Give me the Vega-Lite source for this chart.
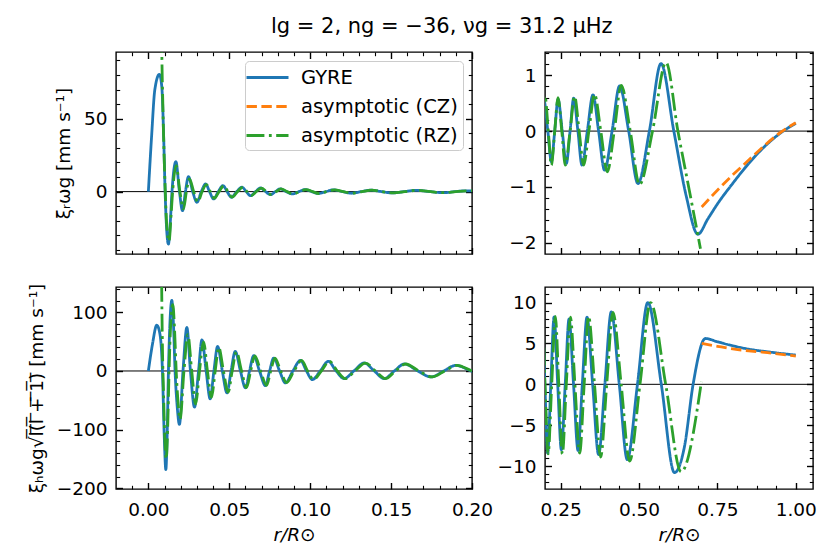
{
  "$schema": "https://vega.github.io/schema/vega-lite/v6.json",
  "padding": {"left": 26, "top": 16, "right": 19, "bottom": 5},
  "title": {"text": "lg = 2, ng = \u221236, \u03bdg = 31.2 \u03bcHz", "font": "DejaVu Sans", "fontSize": 21, "fontWeight": "normal", "color": "black", "anchor": "middle", "offset": 13.5, "dx": 20},
  "datasets": {
    "xr": [
      {"r": 0, "v": 0, "model": "GYRE"}, {"r": 0.002, "v": 38, "model": "GYRE"}, {"r": 0.004, "v": 70, "model": "GYRE"}, {"r": 0.0068, "v": 80.5, "model": "GYRE"},
      {"r": 0.0083, "v": 72, "model": "GYRE"}, {"r": 0.0094, "v": 40, "model": "GYRE"}, {"r": 0.0103, "v": 2, "model": "GYRE"}, {"r": 0.0112, "v": -24, "model": "GYRE"},
      {"r": 0.0124, "v": -36, "model": "GYRE"}, {"r": 0.0135, "v": -22, "model": "GYRE"}, {"r": 0.0146, "v": 0, "model": "GYRE"}, {"r": 0.017, "v": 20.6, "model": "GYRE"},
      {"r": 0.0192, "v": 0, "model": "GYRE"}, {"r": 0.0211, "v": -13.1, "model": "GYRE"}, {"r": 0.0229, "v": 0, "model": "GYRE"}, {"r": 0.0248, "v": 10.3, "model": "GYRE"},
      {"r": 0.0274, "v": 0, "model": "GYRE"}, {"r": 0.03, "v": -7.3, "model": "GYRE"}, {"r": 0.0327, "v": 0, "model": "GYRE"}, {"r": 0.0354, "v": 5.3, "model": "GYRE"},
      {"r": 0.0378, "v": 0, "model": "GYRE"}, {"r": 0.0403, "v": -5, "model": "GYRE"}, {"r": 0.0432, "v": 0, "model": "GYRE"}, {"r": 0.0461, "v": 4.1, "model": "GYRE"},
      {"r": 0.0487, "v": 0, "model": "GYRE"}, {"r": 0.0513, "v": -3.9, "model": "GYRE"}, {"r": 0.0546, "v": 0, "model": "GYRE"}, {"r": 0.0579, "v": 3, "model": "GYRE"},
      {"r": 0.0605, "v": 0, "model": "GYRE"}, {"r": 0.0631, "v": -2.8, "model": "GYRE"}, {"r": 0.0662, "v": 0, "model": "GYRE"}, {"r": 0.0693, "v": 2.5, "model": "GYRE"},
      {"r": 0.0724, "v": 0, "model": "GYRE"}, {"r": 0.0755, "v": -2.1, "model": "GYRE"}, {"r": 0.0785, "v": 0, "model": "GYRE"}, {"r": 0.0815, "v": 1.9, "model": "GYRE"},
      {"r": 0.0852, "v": 0, "model": "GYRE"}, {"r": 0.089, "v": -1.6, "model": "GYRE"}, {"r": 0.093, "v": 0, "model": "GYRE"}, {"r": 0.097, "v": 1.4, "model": "GYRE"},
      {"r": 0.101, "v": 0, "model": "GYRE"}, {"r": 0.105, "v": -1.3, "model": "GYRE"}, {"r": 0.1097, "v": 0, "model": "GYRE"}, {"r": 0.1145, "v": 1.2, "model": "GYRE"},
      {"r": 0.12, "v": 0, "model": "GYRE"}, {"r": 0.1255, "v": -1.1, "model": "GYRE"}, {"r": 0.1315, "v": 0, "model": "GYRE"}, {"r": 0.1375, "v": 1, "model": "GYRE"},
      {"r": 0.144, "v": 0, "model": "GYRE"}, {"r": 0.151, "v": -0.9, "model": "GYRE"}, {"r": 0.158, "v": 0, "model": "GYRE"}, {"r": 0.1655, "v": 0.85, "model": "GYRE"},
      {"r": 0.174, "v": 0, "model": "GYRE"}, {"r": 0.182, "v": -0.75, "model": "GYRE"}, {"r": 0.1895, "v": 0, "model": "GYRE"}, {"r": 0.1965, "v": 0.55, "model": "GYRE"},
      {"r": 0.209, "v": 0, "model": "GYRE"}, {"r": 0.2204, "v": -0.55, "model": "GYRE"}, {"r": 0.231, "v": 0, "model": "GYRE"}, {"r": 0.2417, "v": 0.57, "model": "GYRE"},
      {"r": 0.255, "v": 0, "model": "GYRE"}, {"r": 0.268, "v": -0.58, "model": "GYRE"}, {"r": 0.28, "v": 0, "model": "GYRE"}, {"r": 0.2915, "v": 0.59, "model": "GYRE"},
      {"r": 0.305, "v": 0, "model": "GYRE"}, {"r": 0.318, "v": -0.61, "model": "GYRE"}, {"r": 0.335, "v": 0, "model": "GYRE"}, {"r": 0.353, "v": 0.65, "model": "GYRE"},
      {"r": 0.371, "v": 0, "model": "GYRE"}, {"r": 0.39, "v": -0.7, "model": "GYRE"}, {"r": 0.414, "v": 0, "model": "GYRE"}, {"r": 0.438, "v": 0.81, "model": "GYRE"},
      {"r": 0.467, "v": 0, "model": "GYRE"}, {"r": 0.4965, "v": -0.94, "model": "GYRE"}, {"r": 0.533, "v": 0, "model": "GYRE"}, {"r": 0.57, "v": 1.21, "model": "GYRE"},
      {"r": 0.611, "v": 0, "model": "GYRE"}, {"r": 0.65, "v": -1.15, "model": "GYRE"}, {"r": 0.6876, "v": -1.85, "model": "GYRE"}, {"r": 0.72, "v": -1.57, "model": "GYRE"},
      {"r": 0.751, "v": -1.3, "model": "GYRE"}, {"r": 0.8, "v": -0.93, "model": "GYRE"}, {"r": 0.85, "v": -0.58, "model": "GYRE"}, {"r": 0.9, "v": -0.28, "model": "GYRE"},
      {"r": 0.95, "v": -0.04, "model": "GYRE"}, {"r": 1, "v": 0.14, "model": "GYRE"},
      {"r": 0.7, "v": -1.36, "model": "asymptotic (CZ)"}, {"r": 0.75, "v": -1.06, "model": "asymptotic (CZ)"}, {"r": 0.8, "v": -0.78, "model": "asymptotic (CZ)"},
      {"r": 0.85, "v": -0.52, "model": "asymptotic (CZ)"}, {"r": 0.9, "v": -0.26, "model": "asymptotic (CZ)"}, {"r": 0.95, "v": -0.03, "model": "asymptotic (CZ)"}, {"r": 1, "v": 0.15, "model": "asymptotic (CZ)"},
      {"r": 0.0076, "v": 230, "model": "asymptotic (RZ)"}, {"r": 0.0082, "v": 110, "model": "asymptotic (RZ)"}, {"r": 0.0089, "v": 62, "model": "asymptotic (RZ)"}, {"r": 0.0096, "v": 30, "model": "asymptotic (RZ)"},
      {"r": 0.0103, "v": 5, "model": "asymptotic (RZ)"}, {"r": 0.0113, "v": -22, "model": "asymptotic (RZ)"}, {"r": 0.0128, "v": -34, "model": "asymptotic (RZ)"}, {"r": 0.0141, "v": -15, "model": "asymptotic (RZ)"},
      {"r": 0.015, "v": 0, "model": "asymptotic (RZ)"}, {"r": 0.0172, "v": 17.9, "model": "asymptotic (RZ)"}, {"r": 0.0195, "v": 0, "model": "asymptotic (RZ)"}, {"r": 0.0217, "v": -11.9, "model": "asymptotic (RZ)"},
      {"r": 0.0235, "v": 0, "model": "asymptotic (RZ)"}, {"r": 0.0254, "v": 8.7, "model": "asymptotic (RZ)"}, {"r": 0.028, "v": 0, "model": "asymptotic (RZ)"}, {"r": 0.0306, "v": -7, "model": "asymptotic (RZ)"},
      {"r": 0.0332, "v": 0, "model": "asymptotic (RZ)"}, {"r": 0.0358, "v": 4.8, "model": "asymptotic (RZ)"}, {"r": 0.0383, "v": 0, "model": "asymptotic (RZ)"}, {"r": 0.0408, "v": -4.6, "model": "asymptotic (RZ)"},
      {"r": 0.0437, "v": 0, "model": "asymptotic (RZ)"}, {"r": 0.0466, "v": 4, "model": "asymptotic (RZ)"}, {"r": 0.0492, "v": 0, "model": "asymptotic (RZ)"}, {"r": 0.0518, "v": -3.8, "model": "asymptotic (RZ)"},
      {"r": 0.0551, "v": 0, "model": "asymptotic (RZ)"}, {"r": 0.0584, "v": 3, "model": "asymptotic (RZ)"}, {"r": 0.061, "v": 0, "model": "asymptotic (RZ)"}, {"r": 0.0636, "v": -2.7, "model": "asymptotic (RZ)"},
      {"r": 0.0667, "v": 0, "model": "asymptotic (RZ)"}, {"r": 0.0698, "v": 2.4, "model": "asymptotic (RZ)"}, {"r": 0.0729, "v": 0, "model": "asymptotic (RZ)"}, {"r": 0.076, "v": -2.1, "model": "asymptotic (RZ)"},
      {"r": 0.079, "v": 0, "model": "asymptotic (RZ)"}, {"r": 0.082, "v": 1.9, "model": "asymptotic (RZ)"}, {"r": 0.0857, "v": 0, "model": "asymptotic (RZ)"}, {"r": 0.0895, "v": -1.6, "model": "asymptotic (RZ)"},
      {"r": 0.0935, "v": 0, "model": "asymptotic (RZ)"}, {"r": 0.0975, "v": 1.4, "model": "asymptotic (RZ)"}, {"r": 0.1015, "v": 0, "model": "asymptotic (RZ)"}, {"r": 0.1055, "v": -1.3, "model": "asymptotic (RZ)"},
      {"r": 0.1102, "v": 0, "model": "asymptotic (RZ)"}, {"r": 0.115, "v": 1.2, "model": "asymptotic (RZ)"}, {"r": 0.1205, "v": 0, "model": "asymptotic (RZ)"}, {"r": 0.126, "v": -1.1, "model": "asymptotic (RZ)"},
      {"r": 0.132, "v": 0, "model": "asymptotic (RZ)"}, {"r": 0.138, "v": 1, "model": "asymptotic (RZ)"}, {"r": 0.1445, "v": 0, "model": "asymptotic (RZ)"}, {"r": 0.1515, "v": -0.9, "model": "asymptotic (RZ)"},
      {"r": 0.1585, "v": 0, "model": "asymptotic (RZ)"}, {"r": 0.166, "v": 0.85, "model": "asymptotic (RZ)"}, {"r": 0.1745, "v": 0, "model": "asymptotic (RZ)"}, {"r": 0.1825, "v": -0.75, "model": "asymptotic (RZ)"},
      {"r": 0.19, "v": 0, "model": "asymptotic (RZ)"}, {"r": 0.2, "v": 0.63, "model": "asymptotic (RZ)"}, {"r": 0.2105, "v": 0, "model": "asymptotic (RZ)"}, {"r": 0.2204, "v": -0.61, "model": "asymptotic (RZ)"},
      {"r": 0.231, "v": 0, "model": "asymptotic (RZ)"}, {"r": 0.2417, "v": 0.6, "model": "asymptotic (RZ)"}, {"r": 0.2535, "v": 0, "model": "asymptotic (RZ)"}, {"r": 0.265, "v": -0.61, "model": "asymptotic (RZ)"},
      {"r": 0.28, "v": 0, "model": "asymptotic (RZ)"}, {"r": 0.2946, "v": 0.62, "model": "asymptotic (RZ)"}, {"r": 0.309, "v": 0, "model": "asymptotic (RZ)"}, {"r": 0.3233, "v": -0.61, "model": "asymptotic (RZ)"},
      {"r": 0.34, "v": 0, "model": "asymptotic (RZ)"}, {"r": 0.358, "v": 0.66, "model": "asymptotic (RZ)"}, {"r": 0.378, "v": 0, "model": "asymptotic (RZ)"}, {"r": 0.3987, "v": -0.73, "model": "asymptotic (RZ)"},
      {"r": 0.421, "v": 0, "model": "asymptotic (RZ)"}, {"r": 0.4433, "v": 0.82, "model": "asymptotic (RZ)"}, {"r": 0.472, "v": 0, "model": "asymptotic (RZ)"}, {"r": 0.5016, "v": -0.96, "model": "asymptotic (RZ)"},
      {"r": 0.543, "v": 0, "model": "asymptotic (RZ)"}, {"r": 0.586, "v": 1.23, "model": "asymptotic (RZ)"}, {"r": 0.624, "v": 0, "model": "asymptotic (RZ)"}, {"r": 0.66, "v": -1.05, "model": "asymptotic (RZ)"},
      {"r": 0.696, "v": -2.11, "model": "asymptotic (RZ)"}
    ],
    "xh": [
      {"r": 0, "v": 0, "model": "GYRE"}, {"r": 0.0025, "v": 45, "model": "GYRE"}, {"r": 0.0052, "v": 78, "model": "GYRE"}, {"r": 0.0072, "v": 62, "model": "GYRE"},
      {"r": 0.0087, "v": 0, "model": "GYRE"}, {"r": 0.0098, "v": -110, "model": "GYRE"}, {"r": 0.0108, "v": -168, "model": "GYRE"}, {"r": 0.0116, "v": -110, "model": "GYRE"},
      {"r": 0.0124, "v": 0, "model": "GYRE"}, {"r": 0.0133, "v": 80, "model": "GYRE"}, {"r": 0.0145, "v": 120, "model": "GYRE"}, {"r": 0.0155, "v": 80, "model": "GYRE"},
      {"r": 0.0165, "v": 0, "model": "GYRE"}, {"r": 0.0178, "v": -60, "model": "GYRE"}, {"r": 0.0192, "v": -91, "model": "GYRE"}, {"r": 0.0214, "v": 0, "model": "GYRE"},
      {"r": 0.0238, "v": 74, "model": "GYRE"}, {"r": 0.026, "v": 0, "model": "GYRE"}, {"r": 0.0285, "v": -61.6, "model": "GYRE"}, {"r": 0.031, "v": 0, "model": "GYRE"},
      {"r": 0.0331, "v": 53, "model": "GYRE"}, {"r": 0.0357, "v": 0, "model": "GYRE"}, {"r": 0.0382, "v": -47.5, "model": "GYRE"}, {"r": 0.0405, "v": 0, "model": "GYRE"},
      {"r": 0.0428, "v": 41.8, "model": "GYRE"}, {"r": 0.0457, "v": 0, "model": "GYRE"}, {"r": 0.0486, "v": -37.3, "model": "GYRE"}, {"r": 0.0511, "v": 0, "model": "GYRE"},
      {"r": 0.0537, "v": 33.3, "model": "GYRE"}, {"r": 0.0569, "v": 0, "model": "GYRE"}, {"r": 0.06, "v": -28.8, "model": "GYRE"}, {"r": 0.0625, "v": 0, "model": "GYRE"},
      {"r": 0.0651, "v": 26, "model": "GYRE"}, {"r": 0.0687, "v": 0, "model": "GYRE"}, {"r": 0.0723, "v": -24.9, "model": "GYRE"}, {"r": 0.0749, "v": 0, "model": "GYRE"},
      {"r": 0.0775, "v": 22, "model": "GYRE"}, {"r": 0.0811, "v": 0, "model": "GYRE"}, {"r": 0.0847, "v": -20.3, "model": "GYRE"}, {"r": 0.0893, "v": 0, "model": "GYRE"},
      {"r": 0.094, "v": 18, "model": "GYRE"}, {"r": 0.0977, "v": 0, "model": "GYRE"}, {"r": 0.1013, "v": -14.7, "model": "GYRE"}, {"r": 0.1062, "v": 0, "model": "GYRE"},
      {"r": 0.1112, "v": 16.4, "model": "GYRE"}, {"r": 0.116, "v": 0, "model": "GYRE"}, {"r": 0.121, "v": -13, "model": "GYRE"}, {"r": 0.127, "v": 0, "model": "GYRE"},
      {"r": 0.1334, "v": 13.6, "model": "GYRE"}, {"r": 0.1396, "v": 0, "model": "GYRE"}, {"r": 0.1458, "v": -13, "model": "GYRE"}, {"r": 0.152, "v": 0, "model": "GYRE"},
      {"r": 0.1582, "v": 11.9, "model": "GYRE"}, {"r": 0.1665, "v": 0, "model": "GYRE"}, {"r": 0.1747, "v": -10.2, "model": "GYRE"}, {"r": 0.1825, "v": 0, "model": "GYRE"},
      {"r": 0.19, "v": 9.6, "model": "GYRE"}, {"r": 0.1995, "v": 0, "model": "GYRE"}, {"r": 0.2085, "v": -8.4, "model": "GYRE"}, {"r": 0.2185, "v": 0, "model": "GYRE"},
      {"r": 0.229, "v": 8.25, "model": "GYRE"}, {"r": 0.2405, "v": 0, "model": "GYRE"}, {"r": 0.2522, "v": -8, "model": "GYRE"}, {"r": 0.2645, "v": 0, "model": "GYRE"},
      {"r": 0.2767, "v": 8, "model": "GYRE"}, {"r": 0.291, "v": 0, "model": "GYRE"}, {"r": 0.3055, "v": -8.1, "model": "GYRE"}, {"r": 0.319, "v": 0, "model": "GYRE"},
      {"r": 0.334, "v": 8.2, "model": "GYRE"}, {"r": 0.352, "v": 0, "model": "GYRE"}, {"r": 0.371, "v": -8.6, "model": "GYRE"}, {"r": 0.391, "v": 0, "model": "GYRE"},
      {"r": 0.4115, "v": 8.85, "model": "GYRE"}, {"r": 0.437, "v": 0, "model": "GYRE"}, {"r": 0.4624, "v": -9.2, "model": "GYRE"}, {"r": 0.495, "v": 0, "model": "GYRE"},
      {"r": 0.528, "v": 10, "model": "GYRE"}, {"r": 0.571, "v": 0, "model": "GYRE"}, {"r": 0.613, "v": -10.8, "model": "GYRE"}, {"r": 0.645, "v": -7.6, "model": "GYRE"},
      {"r": 0.6725, "v": 0, "model": "GYRE"}, {"r": 0.7117, "v": 5.6, "model": "GYRE"}, {"r": 0.75, "v": 5.2, "model": "GYRE"}, {"r": 0.804, "v": 4.67, "model": "GYRE"},
      {"r": 0.85, "v": 4.3, "model": "GYRE"}, {"r": 0.91, "v": 3.98, "model": "GYRE"}, {"r": 1, "v": 3.57, "model": "GYRE"},
      {"r": 0.7, "v": 5, "model": "asymptotic (CZ)"}, {"r": 0.75, "v": 4.65, "model": "asymptotic (CZ)"}, {"r": 0.804, "v": 4.3, "model": "asymptotic (CZ)"},
      {"r": 0.85, "v": 4.1, "model": "asymptotic (CZ)"}, {"r": 0.91, "v": 3.87, "model": "asymptotic (CZ)"}, {"r": 1, "v": 3.45, "model": "asymptotic (CZ)"},
      {"r": 0.0077, "v": 300, "model": "asymptotic (RZ)"}, {"r": 0.0082, "v": 150, "model": "asymptotic (RZ)"}, {"r": 0.0087, "v": 40, "model": "asymptotic (RZ)"}, {"r": 0.0093, "v": -30, "model": "asymptotic (RZ)"},
      {"r": 0.0101, "v": -110, "model": "asymptotic (RZ)"}, {"r": 0.011, "v": -150, "model": "asymptotic (RZ)"}, {"r": 0.0119, "v": -100, "model": "asymptotic (RZ)"}, {"r": 0.0128, "v": 0, "model": "asymptotic (RZ)"},
      {"r": 0.0138, "v": 80, "model": "asymptotic (RZ)"}, {"r": 0.0151, "v": 113, "model": "asymptotic (RZ)"}, {"r": 0.0162, "v": 70, "model": "asymptotic (RZ)"}, {"r": 0.0172, "v": 0, "model": "asymptotic (RZ)"},
      {"r": 0.0184, "v": -55, "model": "asymptotic (RZ)"}, {"r": 0.0196, "v": -82, "model": "asymptotic (RZ)"}, {"r": 0.022, "v": 0, "model": "asymptotic (RZ)"}, {"r": 0.0244, "v": 62, "model": "asymptotic (RZ)"},
      {"r": 0.0268, "v": 0, "model": "asymptotic (RZ)"}, {"r": 0.0292, "v": -56.5, "model": "asymptotic (RZ)"}, {"r": 0.0316, "v": 0, "model": "asymptotic (RZ)"}, {"r": 0.0341, "v": 49.7, "model": "asymptotic (RZ)"},
      {"r": 0.0365, "v": 0, "model": "asymptotic (RZ)"}, {"r": 0.039, "v": -45, "model": "asymptotic (RZ)"}, {"r": 0.0413, "v": 0, "model": "asymptotic (RZ)"}, {"r": 0.0435, "v": 40, "model": "asymptotic (RZ)"},
      {"r": 0.0464, "v": 0, "model": "asymptotic (RZ)"}, {"r": 0.0493, "v": -36, "model": "asymptotic (RZ)"}, {"r": 0.0518, "v": 0, "model": "asymptotic (RZ)"}, {"r": 0.0544, "v": 32.5, "model": "asymptotic (RZ)"},
      {"r": 0.0576, "v": 0, "model": "asymptotic (RZ)"}, {"r": 0.0607, "v": -28.5, "model": "asymptotic (RZ)"}, {"r": 0.0632, "v": 0, "model": "asymptotic (RZ)"}, {"r": 0.0658, "v": 25.5, "model": "asymptotic (RZ)"},
      {"r": 0.0694, "v": 0, "model": "asymptotic (RZ)"}, {"r": 0.073, "v": -24.5, "model": "asymptotic (RZ)"}, {"r": 0.0756, "v": 0, "model": "asymptotic (RZ)"}, {"r": 0.0782, "v": 21.8, "model": "asymptotic (RZ)"},
      {"r": 0.0818, "v": 0, "model": "asymptotic (RZ)"}, {"r": 0.0854, "v": -20, "model": "asymptotic (RZ)"}, {"r": 0.09, "v": 0, "model": "asymptotic (RZ)"}, {"r": 0.0947, "v": 18, "model": "asymptotic (RZ)"},
      {"r": 0.0984, "v": 0, "model": "asymptotic (RZ)"}, {"r": 0.102, "v": -14.7, "model": "asymptotic (RZ)"}, {"r": 0.1069, "v": 0, "model": "asymptotic (RZ)"}, {"r": 0.1119, "v": 16.3, "model": "asymptotic (RZ)"},
      {"r": 0.1167, "v": 0, "model": "asymptotic (RZ)"}, {"r": 0.1217, "v": -13, "model": "asymptotic (RZ)"}, {"r": 0.1277, "v": 0, "model": "asymptotic (RZ)"}, {"r": 0.1341, "v": 13.5, "model": "asymptotic (RZ)"},
      {"r": 0.1403, "v": 0, "model": "asymptotic (RZ)"}, {"r": 0.1465, "v": -13, "model": "asymptotic (RZ)"}, {"r": 0.1527, "v": 0, "model": "asymptotic (RZ)"}, {"r": 0.1589, "v": 11.9, "model": "asymptotic (RZ)"},
      {"r": 0.1672, "v": 0, "model": "asymptotic (RZ)"}, {"r": 0.1754, "v": -10.2, "model": "asymptotic (RZ)"}, {"r": 0.1832, "v": 0, "model": "asymptotic (RZ)"}, {"r": 0.1908, "v": 9.6, "model": "asymptotic (RZ)"},
      {"r": 0.2, "v": 0, "model": "asymptotic (RZ)"}, {"r": 0.21, "v": -8.5, "model": "asymptotic (RZ)"}, {"r": 0.2215, "v": 0, "model": "asymptotic (RZ)"}, {"r": 0.233, "v": 8.3, "model": "asymptotic (RZ)"},
      {"r": 0.244, "v": 0, "model": "asymptotic (RZ)"}, {"r": 0.2554, "v": -8.5, "model": "asymptotic (RZ)"}, {"r": 0.268, "v": 0, "model": "asymptotic (RZ)"}, {"r": 0.281, "v": 8.2, "model": "asymptotic (RZ)"},
      {"r": 0.2955, "v": 0, "model": "asymptotic (RZ)"}, {"r": 0.3106, "v": -8.4, "model": "asymptotic (RZ)"}, {"r": 0.325, "v": 0, "model": "asymptotic (RZ)"}, {"r": 0.339, "v": 8.3, "model": "asymptotic (RZ)"},
      {"r": 0.358, "v": 0, "model": "asymptotic (RZ)"}, {"r": 0.3774, "v": -8.9, "model": "asymptotic (RZ)"}, {"r": 0.397, "v": 0, "model": "asymptotic (RZ)"}, {"r": 0.4167, "v": 8.8, "model": "asymptotic (RZ)"},
      {"r": 0.443, "v": 0, "model": "asymptotic (RZ)"}, {"r": 0.47, "v": -9.4, "model": "asymptotic (RZ)"}, {"r": 0.503, "v": 0, "model": "asymptotic (RZ)"}, {"r": 0.5367, "v": 10, "model": "asymptotic (RZ)"},
      {"r": 0.585, "v": 0, "model": "asymptotic (RZ)"}, {"r": 0.6343, "v": -10.7, "model": "asymptotic (RZ)"}, {"r": 0.699, "v": 0.3, "model": "asymptotic (RZ)"}
    ]
  },
  "columns": 2,
  "spacing": {"row": 33, "column": 73},
  "bounds": "flush",
  "align": "each",
  "resolve": {"scale": {"color": "independent", "strokeDash": "independent"}},
  "concat": [
    {
      "width": 356, "height": 202,
      "data": {"name": "xr"},
      "resolve": {"axis": {"x": "independent", "y": "independent"}},
      "layer": [
        {"data": {"values": [{}]}, "mark": {"type": "rule", "color": "black", "strokeWidth": 1},
         "encoding": {"y": {"datum": 0, "type": "quantitative", "scale": {"domain": [-42.8, 95.8], "nice": false, "zero": false},
           "axis": {"orient": "right", "values": [0, 50], "labels": false, "title": null}}}},
        {"mark": {"type": "line", "strokeWidth": 2.8, "clip": true, "interpolate": "monotone"},
         "encoding": {
           "x": {"field": "r", "type": "quantitative", "scale": {"domain": [-0.02, 0.2], "nice": false, "zero": false},
             "axis": {"orient": "bottom", "values": [0, 0.05, 0.1, 0.15, 0.2], "labels": false, "title": null}},
           "y": {"field": "v", "type": "quantitative", "scale": {"domain": [-42.8, 95.8], "nice": false, "zero": false},
             "axis": {"orient": "left", "values": [0, 50], "format": "d", "title": "\u03be\u1d63\u03c9g [mm s\u207b\u00b9]"}},
           "color": {"field": "model", "type": "nominal", "title": null,
             "scale": {"domain": ["GYRE", "asymptotic (CZ)", "asymptotic (RZ)"], "range": ["#1f77b4", "#ff7f0e", "#2ca02c"]},
             "legend": {"orient": "top-right", "offset": 9, "fillColor": "rgba(255,255,255,0.85)", "strokeColor": "#cccccc", "cornerRadius": 4, "padding": 5,
               "symbolType": "M-2.1,0H2.1", "symbolSize": 400, "symbolStrokeWidth": 2.8, "symbolOffset": 6, "labelOffset": 22, "rowPadding": 8,
               "labelFont": "DejaVu Sans", "labelFontSize": 19.5, "labelColor": "black", "labelLimit": 400}},
           "strokeDash": {"field": "model", "type": "nominal", "title": null,
             "scale": {"domain": ["GYRE", "asymptotic (CZ)", "asymptotic (RZ)"], "range": [[1, 0], [10.4, 4.5], [17.9, 4.5, 2.8, 4.5]]},
             "legend": {"orient": "top-right", "offset": 9, "fillColor": "rgba(255,255,255,0.85)", "strokeColor": "#cccccc", "cornerRadius": 4, "padding": 5,
               "symbolType": "M-2.1,0H2.1", "symbolSize": 400, "symbolStrokeWidth": 2.8, "symbolOffset": 6, "labelOffset": 22, "rowPadding": 8,
               "labelFont": "DejaVu Sans", "labelFontSize": 19.5, "labelColor": "black", "labelLimit": 400}}
         }},
        {"data": {"values": [{}]}, "mark": {"type": "point", "opacity": 0},
         "encoding": {
           "x": {"datum": 0.1, "type": "quantitative", "scale": {"domain": [-0.02, 0.2], "nice": false, "zero": false},
             "axis": {"orient": "top", "values": [0, 0.05, 0.1, 0.15, 0.2], "labels": false, "title": null}},
           "y": {"datum": 0, "type": "quantitative", "scale": {"domain": [-42.8, 95.8], "nice": false, "zero": false},
             "axis": {"orient": "left", "values": [-40, -30, -20, -10, 10, 20, 30, 40, 60, 70, 80, 90], "labels": false, "tickSize": -3.7, "tickWidth": 1.1, "title": null}}}},
        {"data": {"values": [{}]}, "mark": {"type": "point", "opacity": 0},
         "encoding": {
           "x": {"datum": 0.1, "type": "quantitative", "scale": {"domain": [-0.02, 0.2], "nice": false, "zero": false},
             "axis": {"orient": "bottom", "values": [-0.01, 0.01, 0.02, 0.03, 0.04, 0.06, 0.07, 0.08, 0.09, 0.11, 0.12, 0.13, 0.14, 0.16, 0.17, 0.18, 0.19], "labels": false, "tickSize": -3.7, "tickWidth": 1.1, "title": null}},
           "y": {"datum": 0, "type": "quantitative", "scale": {"domain": [-42.8, 95.8], "nice": false, "zero": false},
             "axis": {"orient": "right", "values": [-40, -30, -20, -10, 10, 20, 30, 40, 60, 70, 80, 90], "labels": false, "tickSize": -3.7, "tickWidth": 1.1, "title": null}}}},
        {"data": {"values": [{}]}, "mark": {"type": "point", "opacity": 0},
         "encoding": {
           "x": {"datum": 0.1, "type": "quantitative", "scale": {"domain": [-0.02, 0.2], "nice": false, "zero": false},
             "axis": {"orient": "top", "values": [-0.01, 0.01, 0.02, 0.03, 0.04, 0.06, 0.07, 0.08, 0.09, 0.11, 0.12, 0.13, 0.14, 0.16, 0.17, 0.18, 0.19], "labels": false, "tickSize": -3.7, "tickWidth": 1.1, "title": null}},
           "y": {"datum": 0, "type": "quantitative", "scale": {"domain": [-42.8, 95.8], "nice": false, "zero": false}, "axis": null}}}
      ]
    },
    {
      "width": 268, "height": 202,
      "data": {"name": "xr"},
      "resolve": {"axis": {"x": "independent", "y": "independent"}},
      "layer": [
        {"data": {"values": [{}]}, "mark": {"type": "rule", "color": "black", "strokeWidth": 1},
         "encoding": {"y": {"datum": 0, "type": "quantitative", "scale": {"domain": [-2.204, 1.418], "nice": false, "zero": false},
           "axis": {"orient": "right", "values": [-2, -1, 0, 1], "labels": false, "title": null}}}},
        {"mark": {"type": "line", "strokeWidth": 2.8, "clip": true, "interpolate": "monotone"},
         "encoding": {
           "x": {"field": "r", "type": "quantitative", "scale": {"domain": [0.2, 1.055], "nice": false, "zero": false},
             "axis": {"orient": "bottom", "values": [0.25, 0.5, 0.75, 1], "labels": false, "title": null}},
           "y": {"field": "v", "type": "quantitative", "scale": {"domain": [-2.204, 1.418], "nice": false, "zero": false},
             "axis": {"orient": "left", "values": [-2, -1, 0, 1], "format": "d", "title": null}},
           "color": {"field": "model", "type": "nominal", "legend": null,
             "scale": {"domain": ["GYRE", "asymptotic (CZ)", "asymptotic (RZ)"], "range": ["#1f77b4", "#ff7f0e", "#2ca02c"]}},
           "strokeDash": {"field": "model", "type": "nominal", "legend": null,
             "scale": {"domain": ["GYRE", "asymptotic (CZ)", "asymptotic (RZ)"], "range": [[1, 0], [10.4, 4.5], [17.9, 4.5, 2.8, 4.5]]}}
         }},
        {"data": {"values": [{}]}, "mark": {"type": "point", "opacity": 0},
         "encoding": {
           "x": {"datum": 0.5, "type": "quantitative", "scale": {"domain": [0.2, 1.055], "nice": false, "zero": false},
             "axis": {"orient": "top", "values": [0.25, 0.5, 0.75, 1], "labels": false, "title": null}},
           "y": {"datum": 0, "type": "quantitative", "scale": {"domain": [-2.204, 1.418], "nice": false, "zero": false},
             "axis": {"orient": "left", "values": [-1.8, -1.6, -1.4, -1.2, -0.8, -0.6, -0.4, -0.2, 0.2, 0.4, 0.6, 0.8, 1.2, 1.4], "labels": false, "tickSize": -3.7, "tickWidth": 1.1, "title": null}}}},
        {"data": {"values": [{}]}, "mark": {"type": "point", "opacity": 0},
         "encoding": {
           "x": {"datum": 0.5, "type": "quantitative", "scale": {"domain": [0.2, 1.055], "nice": false, "zero": false},
             "axis": {"orient": "bottom", "values": [0.3125, 0.375, 0.4375, 0.5625, 0.625, 0.6875, 0.8125, 0.875, 0.9375], "labels": false, "tickSize": -3.7, "tickWidth": 1.1, "title": null}},
           "y": {"datum": 0, "type": "quantitative", "scale": {"domain": [-2.204, 1.418], "nice": false, "zero": false},
             "axis": {"orient": "right", "values": [-1.8, -1.6, -1.4, -1.2, -0.8, -0.6, -0.4, -0.2, 0.2, 0.4, 0.6, 0.8, 1.2, 1.4], "labels": false, "tickSize": -3.7, "tickWidth": 1.1, "title": null}}}},
        {"data": {"values": [{}]}, "mark": {"type": "point", "opacity": 0},
         "encoding": {
           "x": {"datum": 0.5, "type": "quantitative", "scale": {"domain": [0.2, 1.055], "nice": false, "zero": false},
             "axis": {"orient": "top", "values": [0.3125, 0.375, 0.4375, 0.5625, 0.625, 0.6875, 0.8125, 0.875, 0.9375], "labels": false, "tickSize": -3.7, "tickWidth": 1.1, "title": null}},
           "y": {"datum": 0, "type": "quantitative", "scale": {"domain": [-2.204, 1.418], "nice": false, "zero": false}, "axis": null}}}
      ]
    },
    {
      "width": 356, "height": 202,
      "data": {"name": "xh"},
      "resolve": {"axis": {"x": "independent", "y": "independent"}},
      "layer": [
        {"data": {"values": [{}]}, "mark": {"type": "rule", "color": "black", "strokeWidth": 1},
         "encoding": {"y": {"datum": 0, "type": "quantitative", "scale": {"domain": [-201, 143], "nice": false, "zero": false},
           "axis": {"orient": "right", "values": [-200, -100, 0, 100], "labels": false, "title": null}}}},
        {"mark": {"type": "line", "strokeWidth": 2.8, "clip": true, "interpolate": "monotone"},
         "encoding": {
           "x": {"field": "r", "type": "quantitative", "scale": {"domain": [-0.02, 0.2], "nice": false, "zero": false},
             "axis": {"orient": "bottom", "values": [0, 0.05, 0.1, 0.15, 0.2], "format": ".2f", "title": "r/R\u2299", "titleFontStyle": "italic"}},
           "y": {"field": "v", "type": "quantitative", "scale": {"domain": [-201, 143], "nice": false, "zero": false},
             "axis": {"orient": "left", "values": [-200, -100, 0, 100], "format": "d", "title": "\u03be\u2095\u03c9g\u221al\u0305(\u0305l\u0305 \u0305+\u0305 \u03051\u0305)\u0305 [mm s\u207b\u00b9]"}},
           "color": {"field": "model", "type": "nominal", "legend": null,
             "scale": {"domain": ["GYRE", "asymptotic (CZ)", "asymptotic (RZ)"], "range": ["#1f77b4", "#ff7f0e", "#2ca02c"]}},
           "strokeDash": {"field": "model", "type": "nominal", "legend": null,
             "scale": {"domain": ["GYRE", "asymptotic (CZ)", "asymptotic (RZ)"], "range": [[1, 0], [10.4, 4.5], [17.9, 4.5, 2.8, 4.5]]}}
         }},
        {"data": {"values": [{}]}, "mark": {"type": "point", "opacity": 0},
         "encoding": {
           "x": {"datum": 0.1, "type": "quantitative", "scale": {"domain": [-0.02, 0.2], "nice": false, "zero": false},
             "axis": {"orient": "top", "values": [0, 0.05, 0.1, 0.15, 0.2], "labels": false, "title": null}},
           "y": {"datum": 0, "type": "quantitative", "scale": {"domain": [-201, 143], "nice": false, "zero": false},
             "axis": {"orient": "left", "values": [-180, -160, -140, -120, -80, -60, -40, -20, 20, 40, 60, 80, 120, 140], "labels": false, "tickSize": -3.7, "tickWidth": 1.1, "title": null}}}},
        {"data": {"values": [{}]}, "mark": {"type": "point", "opacity": 0},
         "encoding": {
           "x": {"datum": 0.1, "type": "quantitative", "scale": {"domain": [-0.02, 0.2], "nice": false, "zero": false},
             "axis": {"orient": "bottom", "values": [-0.01, 0.01, 0.02, 0.03, 0.04, 0.06, 0.07, 0.08, 0.09, 0.11, 0.12, 0.13, 0.14, 0.16, 0.17, 0.18, 0.19], "labels": false, "tickSize": -3.7, "tickWidth": 1.1, "title": null}},
           "y": {"datum": 0, "type": "quantitative", "scale": {"domain": [-201, 143], "nice": false, "zero": false},
             "axis": {"orient": "right", "values": [-180, -160, -140, -120, -80, -60, -40, -20, 20, 40, 60, 80, 120, 140], "labels": false, "tickSize": -3.7, "tickWidth": 1.1, "title": null}}}},
        {"data": {"values": [{}]}, "mark": {"type": "point", "opacity": 0},
         "encoding": {
           "x": {"datum": 0.1, "type": "quantitative", "scale": {"domain": [-0.02, 0.2], "nice": false, "zero": false},
             "axis": {"orient": "top", "values": [-0.01, 0.01, 0.02, 0.03, 0.04, 0.06, 0.07, 0.08, 0.09, 0.11, 0.12, 0.13, 0.14, 0.16, 0.17, 0.18, 0.19], "labels": false, "tickSize": -3.7, "tickWidth": 1.1, "title": null}},
           "y": {"datum": 0, "type": "quantitative", "scale": {"domain": [-201, 143], "nice": false, "zero": false}, "axis": null}}}
      ]
    },
    {
      "width": 268, "height": 202,
      "data": {"name": "xh"},
      "resolve": {"axis": {"x": "independent", "y": "independent"}},
      "layer": [
        {"data": {"values": [{}]}, "mark": {"type": "rule", "color": "black", "strokeWidth": 1},
         "encoding": {"y": {"datum": 0, "type": "quantitative", "scale": {"domain": [-12.8, 11.9], "nice": false, "zero": false},
           "axis": {"orient": "right", "values": [-10, -5, 0, 5, 10], "labels": false, "title": null}}}},
        {"mark": {"type": "line", "strokeWidth": 2.8, "clip": true, "interpolate": "monotone"},
         "encoding": {
           "x": {"field": "r", "type": "quantitative", "scale": {"domain": [0.2, 1.055], "nice": false, "zero": false},
             "axis": {"orient": "bottom", "values": [0.25, 0.5, 0.75, 1], "format": ".2f", "title": "r/R\u2299", "titleFontStyle": "italic"}},
           "y": {"field": "v", "type": "quantitative", "scale": {"domain": [-12.8, 11.9], "nice": false, "zero": false},
             "axis": {"orient": "left", "values": [-10, -5, 0, 5, 10], "format": "d", "title": null}},
           "color": {"field": "model", "type": "nominal", "legend": null,
             "scale": {"domain": ["GYRE", "asymptotic (CZ)", "asymptotic (RZ)"], "range": ["#1f77b4", "#ff7f0e", "#2ca02c"]}},
           "strokeDash": {"field": "model", "type": "nominal", "legend": null,
             "scale": {"domain": ["GYRE", "asymptotic (CZ)", "asymptotic (RZ)"], "range": [[1, 0], [10.4, 4.5], [17.9, 4.5, 2.8, 4.5]]}}
         }},
        {"data": {"values": [{}]}, "mark": {"type": "point", "opacity": 0},
         "encoding": {
           "x": {"datum": 0.5, "type": "quantitative", "scale": {"domain": [0.2, 1.055], "nice": false, "zero": false},
             "axis": {"orient": "top", "values": [0.25, 0.5, 0.75, 1], "labels": false, "title": null}},
           "y": {"datum": 0, "type": "quantitative", "scale": {"domain": [-12.8, 11.9], "nice": false, "zero": false},
             "axis": {"orient": "left", "values": [-12, -11, -9, -8, -7, -6, -4, -3, -2, -1, 1, 2, 3, 4, 6, 7, 8, 9, 11], "labels": false, "tickSize": -3.7, "tickWidth": 1.1, "title": null}}}},
        {"data": {"values": [{}]}, "mark": {"type": "point", "opacity": 0},
         "encoding": {
           "x": {"datum": 0.5, "type": "quantitative", "scale": {"domain": [0.2, 1.055], "nice": false, "zero": false},
             "axis": {"orient": "bottom", "values": [0.3125, 0.375, 0.4375, 0.5625, 0.625, 0.6875, 0.8125, 0.875, 0.9375], "labels": false, "tickSize": -3.7, "tickWidth": 1.1, "title": null}},
           "y": {"datum": 0, "type": "quantitative", "scale": {"domain": [-12.8, 11.9], "nice": false, "zero": false},
             "axis": {"orient": "right", "values": [-12, -11, -9, -8, -7, -6, -4, -3, -2, -1, 1, 2, 3, 4, 6, 7, 8, 9, 11], "labels": false, "tickSize": -3.7, "tickWidth": 1.1, "title": null}}}},
        {"data": {"values": [{}]}, "mark": {"type": "point", "opacity": 0},
         "encoding": {
           "x": {"datum": 0.5, "type": "quantitative", "scale": {"domain": [0.2, 1.055], "nice": false, "zero": false},
             "axis": {"orient": "top", "values": [0.3125, 0.375, 0.4375, 0.5625, 0.625, 0.6875, 0.8125, 0.875, 0.9375], "labels": false, "tickSize": -3.7, "tickWidth": 1.1, "title": null}},
           "y": {"datum": 0, "type": "quantitative", "scale": {"domain": [-12.8, 11.9], "nice": false, "zero": false}, "axis": null}}}
      ]
    }
  ],
  "config": {
    "font": "DejaVu Sans",
    "view": {"stroke": "black", "strokeWidth": 1.4},
    "axis": {"domain": false, "grid": false, "tickColor": "black", "tickSize": -6.5, "tickWidth": 1.4,
      "labelFont": "DejaVu Sans", "labelFontSize": 18.5, "labelColor": "black", "labelFlush": false, "labelOverlap": false,
      "titleFont": "DejaVu Sans", "titleFontSize": 18.5, "titleFontWeight": "normal", "titleColor": "black"},
    "axisX": {"labelPadding": 18, "titlePadding": 6},
    "axisY": {"labelPadding": 15.5, "titlePadding": 10}
  }
}
